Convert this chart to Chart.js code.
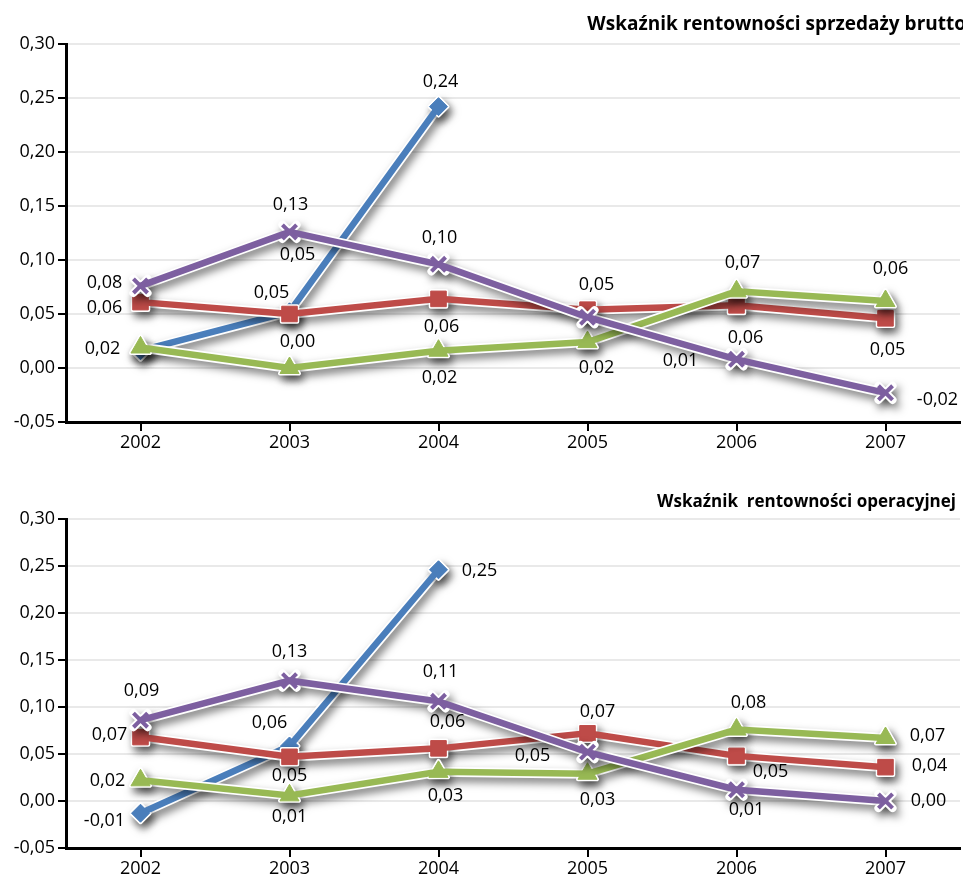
<!DOCTYPE html>
<html lang="pl">
<head>
<meta charset="utf-8">
<title>Wskaźniki rentowności</title>
<script src="https://cdn.jsdelivr.net/npm/chart.js@4/dist/chart.umd.min.js"></script>
<style>
  html, body { margin: 0; padding: 0; background: #fff; overflow: hidden; }
  body { width: 963px; height: 879px; position: relative; }
  .wrap { position: absolute; left: 0; width: 963px; }
  #w1 { top: 0; height: 452px; }
  #w2 { top: 452px; height: 427px; }
</style>
</head>
<body>
<div class="wrap" id="w1"><canvas id="c1" width="963" height="452"></canvas></div>
<div class="wrap" id="w2"><canvas id="c2" width="963" height="427"></canvas></div>
<script>
// ---------- DATA ----------
const years = ['2002', '2003', '2004', '2005', '2006', '2007'];
const yTickValues = [-0.05, 0.00, 0.05, 0.10, 0.15, 0.20, 0.25, 0.30];

const titleBrutto = 'Wskaźnik rentowności sprzedaży brutto';
const titleOper = 'Wskaźnik  rentowności operacyjnej';

// Wskaźnik rentowności sprzedaży brutto
const bruttoBlue   = [0.016, 0.052, 0.242, null, null, null];
const bruttoRed    = [0.061, 0.050, 0.064, 0.054, 0.058, 0.046];
const bruttoGreen  = [0.019, 0.000, 0.016, 0.024, 0.071, 0.062];
const bruttoPurple = [0.076, 0.126, 0.096, 0.047, 0.008, -0.023];

// Wskaźnik rentowności operacyjnej
const operBlue   = [-0.013, 0.0585, 0.246, null, null, null];
const operRed    = [0.068, 0.047, 0.056, 0.072, 0.048, 0.036];
const operGreen  = [0.022, 0.006, 0.031, 0.029, 0.076, 0.067];
const operPurple = [0.086, 0.128, 0.106, 0.052, 0.012, 0.000];

// ---------- LABEL PLACEMENT (offsets relative to each point, null = no label) ----------
const bruttoBlueLbl   = [null, [8,-57], [2,-25], null, null, null];
const bruttoRedLbl    = [[-36,6], [-18,-21], [3,28], [9,-25], [9,33], [2,32]];
const bruttoGreenLbl  = [[-38,1], [8,-26], [1,27], [9,26], [6,-28], [5,-32]];
const bruttoPurpleLbl = [[-36,-3], [1,-27], [1,-26], null, [-56,2], [52,7]];

const operBlueLbl   = [[-36,8], [-20,-23], [41,1], null, null, null];
const operRedLbl    = [[-31,-2], [0,19], [9,-26], [10,-21], [34,16], [44,-1]];
const operGreenLbl  = [[-33,1], [0,22], [7,24], [10,26], [12,-27], [42,-2]];
const operPurpleLbl = [[1,-29], [0,-29], [2,-29], [-55,4], [10,20], [43,0]];

// ---------- STYLE ----------
const COLORS = { blue: '#4A7EBB', red: '#BE4B48', green: '#98B954', purple: '#7D5FA0' };
const FONT = '"Open Sans", "Noto Sans", sans-serif';
const fmt = v => v.toFixed(2).replace('.', ',');

function drawMarker(ctx, style, r, bw, x, y) {
  if (Chart.helpers && Chart.helpers.drawPoint) {
    Chart.helpers.drawPoint(ctx, { pointStyle: style, radius: r, rotation: 0, borderWidth: bw }, x, y);
  }
}

const outlinePlugin = {
  id: 'outlineShadow',
  beforeDatasetDraw(chart, args) {
    const ctx = chart.ctx;
    const ds = chart.data.datasets[args.index];
    const pts = args.meta.data;
    ctx.save();
    ctx.shadowColor = 'rgba(0,0,0,0.5)';
    ctx.shadowBlur = 8;
    ctx.shadowOffsetX = 3;
    ctx.shadowOffsetY = 5;
    ctx.strokeStyle = '#fff';
    ctx.fillStyle = '#fff';
    ctx.lineWidth = 10;
    ctx.lineJoin = 'round';
    ctx.lineCap = 'round';
    ctx.beginPath();
    let pen = false;
    pts.forEach((p, i) => {
      if (ds.data[i] === null) { pen = false; return; }
      if (!pen) { ctx.moveTo(p.x, p.y); pen = true; } else { ctx.lineTo(p.x, p.y); }
    });
    ctx.stroke();
    pts.forEach((p, i) => {
      if (ds.data[i] === null) return;
      const bw = ds.pointStyle === 'crossRot' ? 8 : 4;
      ctx.lineWidth = bw;
      drawMarker(ctx, ds.pointStyle, ds.pointRadius, bw, p.x, p.y);
    });
    ctx.restore();
  }
};

const labelPlugin = {
  id: 'valueLabels',
  afterDatasetsDraw(chart) {
    const ctx = chart.ctx;
    ctx.save();
    ctx.font = '18px ' + FONT;
    ctx.fillStyle = '#000';
    ctx.textAlign = 'center';
    ctx.textBaseline = 'middle';
    chart.data.datasets.forEach((ds, di) => {
      const meta = chart.getDatasetMeta(di);
      ds.data.forEach((v, i) => {
        const off = ds.labelOffsets[i];
        if (v === null || !off) return;
        const p = meta.data[i];
        ctx.fillText(fmt(v), p.x + off[0], p.y + off[1]);
      });
    });
    ctx.restore();
  }
};

const titlePlugin = {
  id: 'cornerTitle',
  afterDraw(chart, args, opts) {
    const ctx = chart.ctx;
    ctx.save();
    ctx.font = 'bold ' + opts.size + 'px ' + FONT;
    ctx.fillStyle = '#000';
    ctx.textAlign = 'right';
    ctx.textBaseline = 'middle';
    ctx.fillText(opts.text, opts.x, opts.y);
    ctx.restore();
  }
};

function makeDataset(label, data, color, style, radius, lbl, order) {
  const isCross = style === 'crossRot';
  return {
    label: label,
    data: data,
    borderColor: color,
    backgroundColor: color,
    borderWidth: 6.5,
    pointStyle: style,
    pointRadius: radius,
    pointHoverRadius: radius,
    pointBackgroundColor: color,
    pointBorderColor: color,
    pointBorderWidth: isCross ? 4 : 1,
    tension: 0,
    spanGaps: false,
    clip: false,
    order: order,
    labelOffsets: lbl
  };
}

function makeChart(canvasId, title, titleSize, titleX, titleY, padTop, xAxisH, series) {
  return new Chart(document.getElementById(canvasId), {
    type: 'line',
    data: {
      labels: years,
      datasets: [
        makeDataset('Seria 1', series[0], COLORS.blue, 'rectRot', 9, series[4], 3),
        makeDataset('Seria 2', series[1], COLORS.red, 'rect', 11, series[5], 2),
        makeDataset('Seria 3', series[2], COLORS.green, 'triangle', 11, series[6], 1),
        makeDataset('Seria 4', series[3], COLORS.purple, 'crossRot', 10, series[7], 0)
      ]
    },
    options: {
      responsive: false,
      animation: false,
      layout: { autoPadding: false, padding: { top: padTop, right: 3, left: 0, bottom: 0 } },
      plugins: {
        legend: { display: false },
        tooltip: { enabled: false },
        title: { display: false },
        cornerTitle: { text: title, size: titleSize, x: titleX, y: titleY }
      },
      scales: {
        x: {
          type: 'category',
          offset: true,
          grid: { display: true, drawOnChartArea: false, drawTicks: true, tickLength: 9, color: '#000', lineWidth: 2 },
          border: { display: true, color: '#000', width: 3 },
          ticks: { color: '#000', font: { family: FONT, size: 18 }, padding: 1, maxRotation: 0 },
          afterFit: s => { s.height = xAxisH; }
        },
        y: {
          min: -0.05,
          max: 0.30,
          afterBuildTicks: s => { s.ticks = yTickValues.map(v => ({ value: v })); },
          grid: { color: '#e9e9e9', lineWidth: 2, tickColor: '#000', tickWidth: 2, tickLength: 8 },
          border: { display: true, color: '#000', width: 3 },
          ticks: { color: '#000', font: { family: FONT, size: 18 }, padding: 3, callback: v => fmt(v) },
          afterFit: s => { s.width = 66; }
        }
      }
    },
    plugins: [outlinePlugin, labelPlugin, titlePlugin]
  });
}

makeChart('c1', titleBrutto, 19, 966, 25, 44, 30,
  [bruttoBlue, bruttoRed, bruttoGreen, bruttoPurple, bruttoBlueLbl, bruttoRedLbl, bruttoGreenLbl, bruttoPurpleLbl]);
makeChart('c2', titleOper, 17, 956, 50, 67, 31,
  [operBlue, operRed, operGreen, operPurple, operBlueLbl, operRedLbl, operGreenLbl, operPurpleLbl]);
</script>
</body>
</html>
